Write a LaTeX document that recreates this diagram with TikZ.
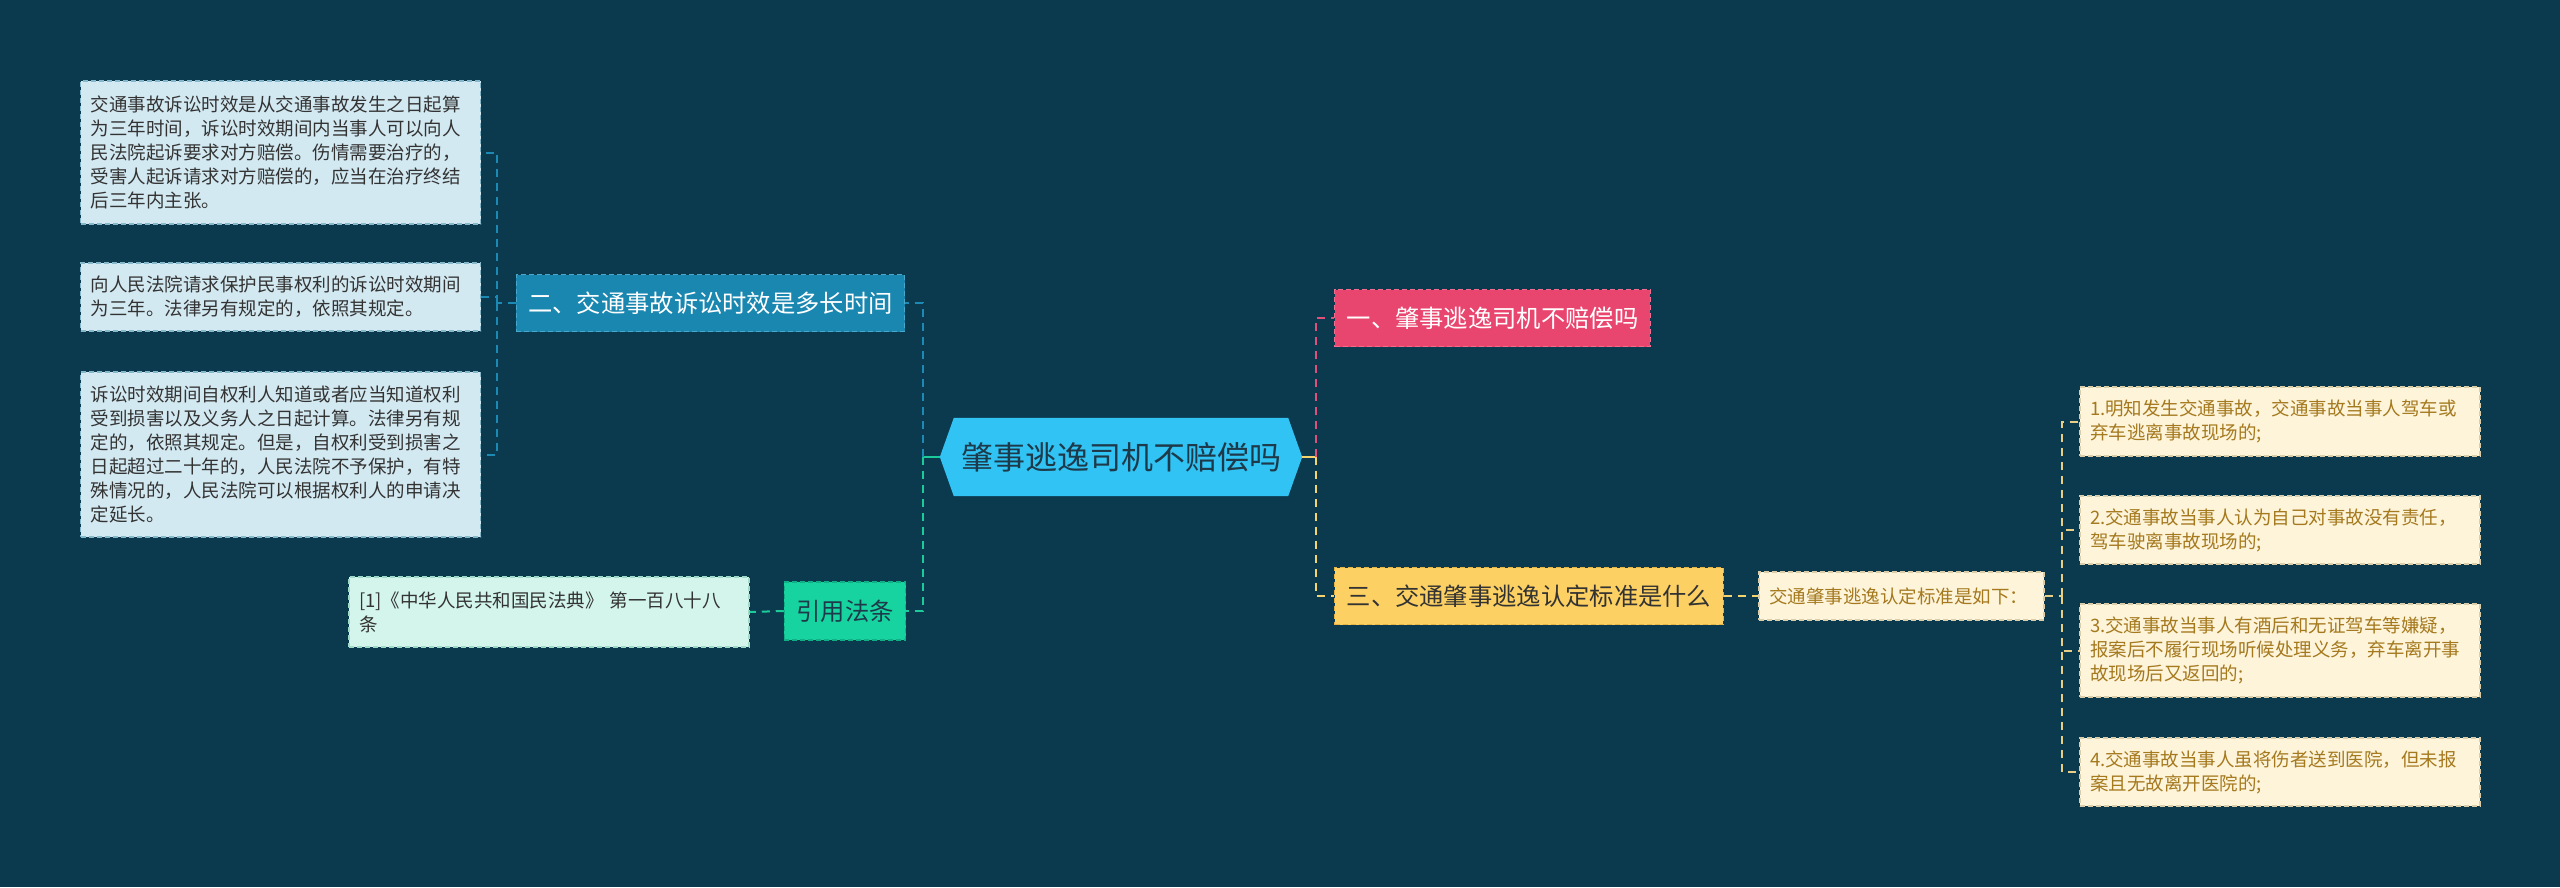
\documentclass[tikz,border=0pt]{standalone}
\usepackage{fontspec}
\setmainfont{Noto Sans CJK SC}
\definecolor{bgc}{HTML}{0B3A4E}
\definecolor{lbfill}{HTML}{D3E9F2}
\definecolor{lbline}{HTML}{86B8CC}
\definecolor{twofill}{HTML}{1A87B1}
\definecolor{twoline}{HTML}{4AA6CA}
\definecolor{blueconn}{HTML}{1C8AB5}
\definecolor{greenfill}{HTML}{17D3A0}
\definecolor{greenline}{HTML}{0FB085}
\definecolor{mintfill}{HTML}{D3F5EB}
\definecolor{mintline}{HTML}{9FD9C8}
\definecolor{greenconn}{HTML}{1BCB9A}
\definecolor{cfill}{HTML}{30C3F3}
\definecolor{ctext}{HTML}{1E3A4A}
\definecolor{pinkfill}{HTML}{E9466F}
\definecolor{pinkline}{HTML}{F06F90}
\definecolor{pinkconn}{HTML}{E0507A}
\definecolor{yelfill}{HTML}{FCD062}
\definecolor{yelline}{HTML}{E6B445}
\definecolor{yelconn}{HTML}{F5D36E}
\definecolor{cream}{HTML}{FDF4DA}
\definecolor{creamline}{HTML}{D9CDAA}
\definecolor{browntext}{HTML}{A5791E}
\definecolor{goldconn}{HTML}{E9CF85}
\definecolor{darktext}{HTML}{333333}
\pgfdeclarelayer{bglayer}
\pgfdeclarelayer{hexlayer}
\pgfsetlayers{bglayer,hexlayer,main}
\tikzset{
  smallfont/.style={font=\fontsize{18.5}{24}\selectfont},
  bigfont/.style={font=\fontsize{24.3}{30}\selectfont},
  leafbox/.style={smallfont, draw, dash pattern=on 5pt off 3pt, line width=1.3pt,
    inner xsep=10pt, inner ysep=6pt, align=left, anchor=center},
  lbox/.style={leafbox, fill=lbfill, draw=lbline, text=darktext, text width=380pt},
  rbox/.style={leafbox, fill=cream, draw=creamline, text=browntext, text width=380pt},
  topic/.style={bigfont, draw, dash pattern=on 5pt off 3pt, line width=1.3pt,
    inner xsep=12pt, inner ysep=4pt, minimum height=57pt, anchor=center},
  conn/.style={dash pattern=on 8pt off 6pt, line width=2pt},
}
\begin{document}
\begin{tikzpicture}[x=1pt,y=-1pt]
\begin{pgfonlayer}{bglayer}
\fill[bgc] (0,0) rectangle (2560,887);
\end{pgfonlayer}
\useasboundingbox (0,0) rectangle (2560,887);

% central node
\node[font=\fontsize{32}{38}\selectfont, text=ctext, minimum width=362pt, minimum height=78pt, inner sep=0pt]
  (c) at (1121,457) {肇事逃逸司机不赔偿吗};
\begin{pgfonlayer}{hexlayer}
\fill[cfill] (c.west) -- ([xshift=14pt]c.north west) -- ([xshift=-14pt]c.north east)
  -- (c.east) -- ([xshift=-14pt]c.south east) -- ([xshift=14pt]c.south west) -- cycle;
\end{pgfonlayer}

% left branch
\node[topic, fill=twofill, draw=twoline, text=white] (two) at (710.5,303) {二、交通事故诉讼时效是多长时间};
\node[topic, fill=greenfill, draw=greenline, text=ctext, minimum height=58pt] (law) at (845,611) {引用法条};

\node[lbox, minimum height=143pt] (b1) at (280.5,152.5) {交通事故诉讼时效是从交通事故发生之日起算\\为三年时间，诉讼时效期间内当事人可以向人\\民法院起诉要求对方赔偿。伤情需要治疗的，\\受害人起诉请求对方赔偿的，应当在治疗终结\\后三年内主张。};
\node[lbox, minimum height=68pt] (b2) at (280.5,297) {向人民法院请求保护民事权利的诉讼时效期间\\为三年。法律另有规定的，依照其规定。};
\node[lbox, minimum height=165pt] (b3) at (280.5,454.5) {诉讼时效期间自权利人知道或者应当知道权利\\受到损害以及义务人之日起计算。法律另有规\\定的，依照其规定。但是，自权利受到损害之\\日起超过二十年的，人民法院不予保护，有特\\殊情况的，人民法院可以根据权利人的申请决\\定延长。};
\node[leafbox, fill=mintfill, draw=mintline, text=darktext, text width=380pt, minimum height=70pt] (lawtext) at (549,612) {[1]《中华人民共和国民法典》 第一百八十八\\条};

% right branch
\node[topic, fill=pinkfill, draw=pinkline, text=white] (one) at (1492.5,318) {一、肇事逃逸司机不赔偿吗};
\node[topic, fill=yelfill, draw=yelline, text=darktext] (three) at (1529,596) {三、交通肇事逃逸认定标准是什么};
\node[leafbox, fill=cream, draw=creamline, text=browntext, text width=265pt, minimum height=48pt] (rs) at (1901.5,596) {交通肇事逃逸认定标准是如下：};

\node[rbox, minimum height=69pt] (r1) at (2280,421.5) {1.明知发生交通事故，交通事故当事人驾车或\\弃车逃离事故现场的;};
\node[rbox, minimum height=68pt] (r2) at (2280,530) {2.交通事故当事人认为自己对事故没有责任，\\驾车驶离事故现场的;};
\node[rbox, minimum height=93pt] (r3) at (2280,650.5) {3.交通事故当事人有酒后和无证驾车等嫌疑，\\报案后不履行现场听候处理义务，弃车离开事\\故现场后又返回的;};
\node[rbox, minimum height=68pt] (r4) at (2280,772) {4.交通事故当事人虽将伤者送到医院，但未报\\案且无故离开医院的;};

% junctions
\coordinate (jl) at (923,457);
\coordinate (jr) at (1316,457);
\coordinate (jL) at (497,303);
\coordinate (jR) at (2062,596);

% connectors left
\draw[greenconn, line width=2pt] (c.west) -- (jl);
\draw[conn, blueconn] (jl) |- (two.east);
\draw[conn, greenconn] (jl) |- (law.east);
\draw[conn, blueconn] (two.west) -- (jL);
\draw[conn, blueconn] (jL) |- (b1.east);
\draw[conn, blueconn] (jL) |- (b2.east);
\draw[conn, blueconn] (jL) |- (b3.east);
\draw[conn, greenconn] (law.west) -- (lawtext.east);

% connectors right
\draw[yelconn, line width=2pt] (c.east) -- (jr);
\draw[conn, pinkconn] (jr) |- (one.west);
\draw[conn, yelconn] (jr) |- (three.west);
\draw[conn, yelconn] (three.east) -- (rs.west);
\draw[conn, goldconn] (rs.east) -- (jR);
\draw[conn, goldconn] (jR) |- (r1.west);
\draw[conn, goldconn] (jR) |- (r2.west);
\draw[conn, goldconn] (jR) |- (r3.west);
\draw[conn, goldconn] (jR) |- (r4.west);
\end{tikzpicture}
\end{document}
